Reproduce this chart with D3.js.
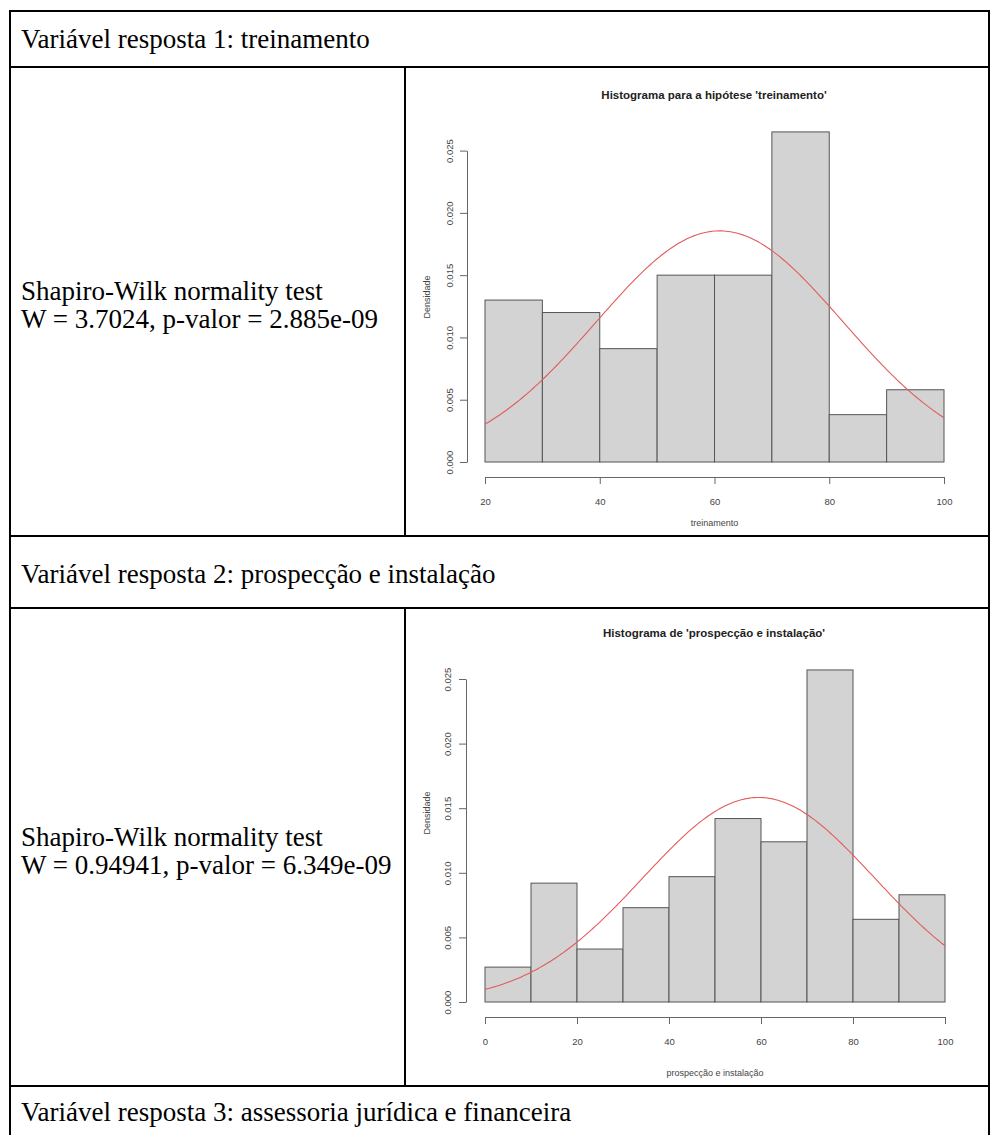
<!DOCTYPE html>
<html>
<head>
<meta charset="utf-8">
<script src="https://cdn.jsdelivr.net/npm/d3@7/dist/d3.min.js"></script>
<style>
  html, body { margin: 0; padding: 0; background: #fff; }
  svg { display: block; }
  .cell-text { font-family: "Liberation Serif", "Times New Roman", serif; font-size: 27px; fill: #000; }
  .chart-title { font-family: "Liberation Sans", Arial, sans-serif; font-size: 11.5px; font-weight: bold; fill: #222; }
  .axis-label { font-family: "Liberation Sans", Arial, sans-serif; font-size: 9px; fill: #444; }
  .axis text { font-family: "Liberation Sans", Arial, sans-serif; font-size: 9.5px; fill: #444; }
  .axis path, .axis line { stroke: #666; stroke-width: 1; }
</style>
</head>
<body>
<svg id="page" width="991" height="1135"></svg>
<script>
// Histogram bins (class limits) and densities for "treinamento"
const breaksTreinamento = [20, 30, 40, 50, 60, 70, 80, 90, 100];
const densTreinamento = [0.0130, 0.0120, 0.0091, 0.0150, 0.0150, 0.0265, 0.0038, 0.0058];
const normTreinamento = { mean: 60.9, sd: 21.5 };
const xTicksTreinamento = [20, 40, 60, 80, 100];

// Histogram bins and densities for "prospecção e instalação"
const breaksProspeccao = [0, 10, 20, 30, 40, 50, 60, 70, 80, 90, 100];
const densProspeccao = [0.0027, 0.0092, 0.0041, 0.0073, 0.0097, 0.0142, 0.0124, 0.0257, 0.0064, 0.0083];
const normProspeccao = { mean: 59.5, sd: 25.2 };
const xTicksProspeccao = [0, 20, 40, 60, 80, 100];

// Shared density ticks
const yTicks = [0, 0.005, 0.010, 0.015, 0.020, 0.025];

// Cell texts
const headers = [
  "Variável resposta 1: treinamento",
  "Variável resposta 2: prospecção e instalação",
  "Variável resposta 3: assessoria jurídica e financeira"
];
const testLines1 = ["Shapiro-Wilk normality test", "W = 3.7024, p-valor = 2.885e-09"];
const testLines2 = ["Shapiro-Wilk normality test", "W = 0.94941, p-valor = 6.349e-09"];

const svg = d3.select("#page");

// ---- Table frame ----
const T = { left: 10, right: 989, top: 11, r1: 67, r2: 536, r3: 608, r4: 1086, bottom: 1135, split: 405 };
const frame = svg.append("g").attr("stroke", "#000").attr("stroke-width", 2).attr("fill", "none");
[T.top, T.r1, T.r2, T.r3, T.r4].forEach(y =>
  frame.append("line").attr("x1", T.left - 1).attr("x2", T.right + 1).attr("y1", y).attr("y2", y));
[T.left, T.right].forEach(x =>
  frame.append("line").attr("x1", x).attr("x2", x).attr("y1", T.top).attr("y2", T.bottom));
[[T.r1, T.r2], [T.r3, T.r4]].forEach(([a, b]) =>
  frame.append("line").attr("x1", T.split).attr("x2", T.split).attr("y1", a).attr("y2", b));

// ---- Cell texts ----
const headerBaselines = [48, 583, 1121];
headers.forEach((t, i) =>
  svg.append("text").attr("class", "cell-text").attr("x", 21).attr("y", headerBaselines[i]).text(t));

function testBlock(lines, y0) {
  lines.forEach((t, i) =>
    svg.append("text").attr("class", "cell-text").attr("x", 21).attr("y", y0 + i * 28).text(t));
}
testBlock(testLines1, 300);
testBlock(testLines2, 846);

// ---- Histogram with normal curve ----
function dnorm(x, m, s) {
  return Math.exp(-((x - m) ** 2) / (2 * s * s)) / (s * Math.sqrt(2 * Math.PI));
}

function histogram(cfg) {
  const g = svg.append("g");
  const x = d3.scaleLinear().domain(cfg.xDomain).range(cfg.xRange);
  const y = d3.scaleLinear().domain([0, 0.025]).range([cfg.y0, cfg.y025]);

  const bins = cfg.dens.map((d, i) => ({ x0: cfg.breaks[i], x1: cfg.breaks[i + 1], d }));

  g.append("g").selectAll("rect").data(bins).join("rect")
    .attr("x", b => x(b.x0))
    .attr("y", b => y(b.d))
    .attr("width", b => x(b.x1) - x(b.x0))
    .attr("height", b => y(0) - y(b.d))
    .attr("fill", "#d3d3d3")
    .attr("stroke", "#555")
    .attr("stroke-width", 1);

  // fitted normal density
  const [a, b] = cfg.xDomain;
  const pts = d3.range(0, 201).map(k => a + (b - a) * k / 200);
  const line = d3.line().x(v => x(v)).y(v => y(dnorm(v, cfg.norm.mean, cfg.norm.sd)));
  g.append("path").datum(pts).attr("d", line)
    .attr("fill", "none").attr("stroke", "#e25c5c").attr("stroke-width", 1.1);

  // x axis
  g.append("g").attr("class", "axis")
    .attr("transform", `translate(0,${cfg.xAxisY})`)
    .call(d3.axisBottom(x).tickValues(cfg.xTicks).tickSize(7).tickSizeOuter(0).tickPadding(cfg.xPad).tickFormat(d3.format("d")));

  // y axis with rotated labels
  const yAxis = g.append("g").attr("class", "axis")
    .attr("transform", `translate(${cfg.yAxisX},0)`)
    .call(d3.axisLeft(y).tickValues(yTicks).tickSize(7).tickSizeOuter(0).tickFormat(d3.format(".3f")));
  yAxis.selectAll(".tick text")
    .attr("x", null).attr("dy", null)
    .attr("text-anchor", "middle")
    .attr("transform", `translate(${cfg.yLabX - cfg.yAxisX},0) rotate(-90) translate(0,3)`);

  // titles
  g.append("text").attr("class", "chart-title")
    .attr("x", cfg.titleX).attr("y", cfg.titleY).attr("text-anchor", "middle").text(cfg.title);
  g.append("text").attr("class", "axis-label")
    .attr("x", (cfg.xRange[0] + cfg.xRange[1]) / 2).attr("y", cfg.xLabY)
    .attr("text-anchor", "middle").text(cfg.xLabel);
  g.append("text").attr("class", "axis-label")
    .attr("transform", `translate(${cfg.yTitleX},${cfg.yTitleY}) rotate(-90)`)
    .attr("text-anchor", "middle").text("Densidade");
}

histogram({
  breaks: breaksTreinamento, dens: densTreinamento, norm: normTreinamento, xTicks: xTicksTreinamento,
  xDomain: [20, 100], xRange: [485, 944], y0: 462, y025: 150.6,
  xAxisY: 477, xPad: 14, xLabY: 526, yAxisX: 467, yLabX: 450, yTitleX: 430, yTitleY: 297,
  title: "Histograma para a hipótese 'treinamento'", titleX: 714, titleY: 99,
  xLabel: "treinamento"
});

histogram({
  breaks: breaksProspeccao, dens: densProspeccao, norm: normProspeccao, xTicks: xTicksProspeccao,
  xDomain: [0, 100], xRange: [485, 945], y0: 1002, y025: 679,
  xAxisY: 1017, xPad: 14, xLabY: 1076, yAxisX: 466, yLabX: 448, yTitleX: 430, yTitleY: 813,
  title: "Histograma de 'prospecção e instalação'", titleX: 714, titleY: 637,
  xLabel: "prospecção e instalação"
});
</script>
</body>
</html>
